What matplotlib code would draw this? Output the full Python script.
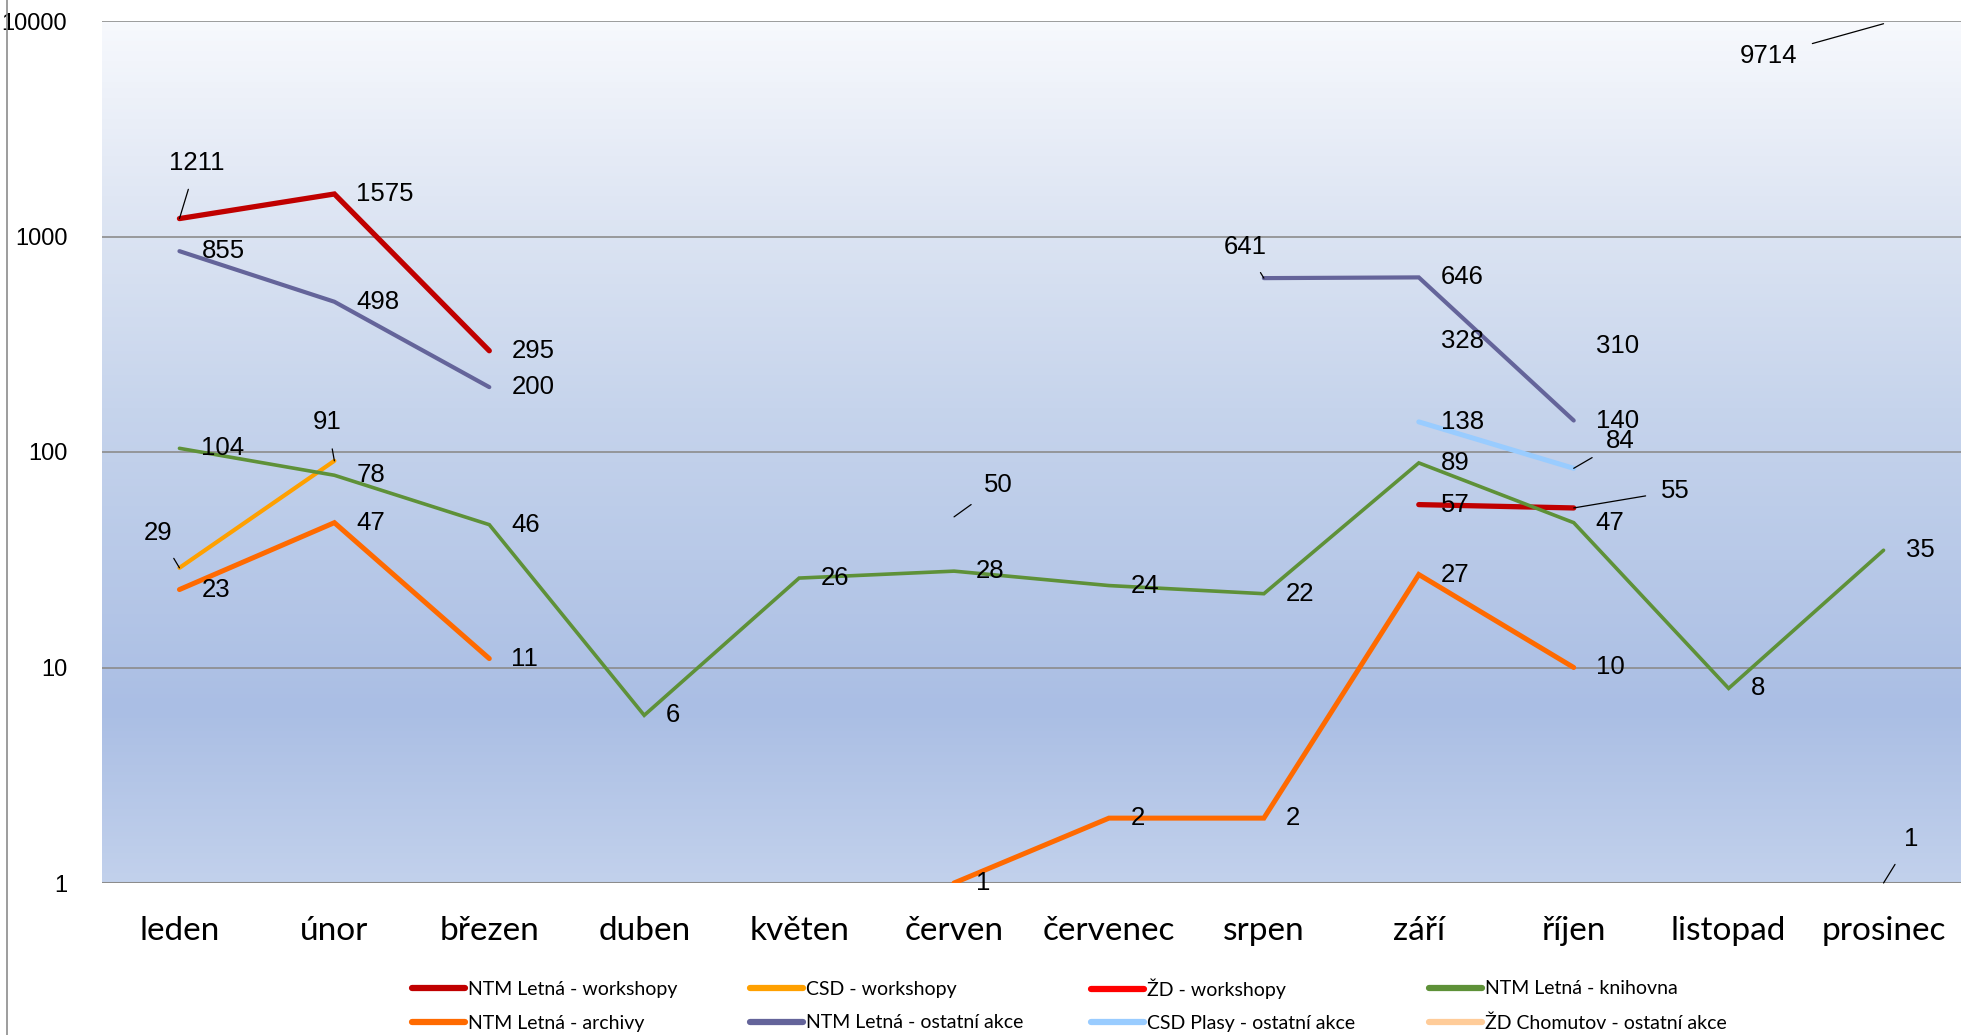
import numpy as np
import matplotlib
matplotlib.use("Agg")
import matplotlib.pyplot as plt
from matplotlib.colors import LinearSegmentedColormap
from matplotlib.lines import Line2D

plt.rcParams["font.family"] = ["Liberation Sans", "DejaVu Sans"]

nan = np.nan

# data
months = ["leden", "únor", "březen", "duben", "květen", "červen",
          "červenec", "srpen", "září", "říjen", "listopad", "prosinec"]

ntm_workshopy = [1211, 1575, 295, nan, nan, nan, nan, nan, 57, 55, nan, nan]
csd_workshopy = [29, 91, nan, nan, nan, nan, nan, nan, nan, nan, nan, nan]
zd_workshopy = [nan, nan, nan, nan, nan, 50, nan, nan, nan, nan, nan, nan]
ntm_knihovna = [104, 78, 46, 6, 26, 28, 24, 22, 89, 47, 8, 35]
ntm_archivy = [23, 47, 11, nan, nan, 1, 2, 2, 27, 10, nan, 1]
ntm_ostatni = [855, 498, 200, nan, nan, nan, nan, 641, 646, 140, nan, 9714]
csd_plasy = [nan, nan, nan, nan, nan, nan, nan, nan, 138, 84, nan, nan]
zd_chomutov = [nan, nan, nan, nan, nan, nan, nan, nan, 328, 310, nan, nan]

names = ["NTM Letná - workshopy", "CSD - workshopy", "ŽD - workshopy",
         "NTM Letná - knihovna", "NTM Letná - archivy", "NTM Letná - ostatní akce",
         "CSD Plasy - ostatní akce", "ŽD Chomutov - ostatní akce"]
series = [ntm_workshopy, csd_workshopy, zd_workshopy, ntm_knihovna,
          ntm_archivy, ntm_ostatni, csd_plasy, zd_chomutov]
colors = ["#C00000", "#FFA000", "#FF0000", "#5E9138",
          "#FF6A00", "#64649A", "#99CCFF", "#FFCC99"]
widths = [3.8, 3.0, 3.0, 2.6, 3.6, 3.0, 3.6, 3.0]
show_line = [True, True, True, True, True, True, True, False]

# label offsets in pixels (series index, month index) -> (dx, dy, ha, leader)
label_pos = {
    (0, 0): (17, 56, "center", True),
    (1, 0): (-21, 35, "center", True),
    (1, 1): (-7, 39, "center", True),
    (2, 5): (30, 32, "left", True),
    (5, 7): (-19, 31, "center", True),
    (6, 9): (32, 27, "left", True),
    (0, 9): (87, 17, "left", True),
    (5, 11): (-86, -32, "right", True),
    (4, 11): (20, 44, "left", True),
}

fig = plt.figure(figsize=(19.61, 10.35), dpi=100)
ax = fig.add_axes([102 / 1961, 1 - 883 / 1035, (1961 - 102) / 1961, (883 - 21) / 1035])

# gradient background
cmap = LinearSegmentedColormap.from_list("bg", [
    (0.0, "#C2D1EC"), (0.2, "#AABEE4"), (0.55, "#C6D4EC"),
    (0.8, "#E0E7F4"), (1.0, "#F7F9FD")])
grad = np.linspace(0, 1, 256).reshape(-1, 1)
ax.imshow(grad, aspect="auto", cmap=cmap, origin="lower",
          extent=[0, 1, 0, 1], transform=ax.transAxes, zorder=0)

x = np.arange(len(months))
for i, vals in enumerate(series):
    if show_line[i]:
        ax.plot(x, vals, color=colors[i], lw=widths[i], zorder=3,
                solid_capstyle="round", solid_joinstyle="miter")

ax.set_yscale("log")
ax.set_ylim(1, 10000)
ax.set_xlim(-0.5, len(months) - 0.5)
ax.set_yticks([1, 10, 100, 1000, 10000])
ax.set_yticklabels(["1", "10", "100", "1000", "10000"],
                   fontfamily="Liberation Sans", fontsize=17)
ax.minorticks_off()
ax.set_xticks(x)
ax.set_xticklabels(months, fontfamily="Lato", fontsize=24)
ax.tick_params(axis="y", length=0, pad=25)
ax.tick_params(axis="x", length=0, pad=23.5)
for s in ax.spines.values():
    s.set_visible(False)
ax.grid(axis="y", color="#8C8C8C", lw=1.2, zorder=1)
ax.axhline(1, color="#8C8C8C", lw=2.2, zorder=2)
ax.set_axisbelow(False)

# data labels
for i, vals in enumerate(series):
    for j, v in enumerate(vals):
        if np.isnan(v):
            continue
        if (i, j) in label_pos:
            dx, dy, ha, leader = label_pos[(i, j)]
        else:
            dx, dy, ha, leader = 22, 0, "left", False
        kw = {}
        if leader:
            kw["arrowprops"] = dict(arrowstyle="-", color="black", lw=0.9,
                                    shrinkA=9, shrinkB=0)
        ax.annotate(str(int(v)), (j, v), xytext=(dx, dy), textcoords="offset pixels",
                    ha=ha, va="center", fontsize=18.5, fontfamily="Liberation Sans",
                    color="black", zorder=5, annotation_clip=False, **kw)

# legend: one entry per slot, four columns and two rows
col_x = [412, 750, 1091, 1429]
row_y = [989, 1023]
for k, name in enumerate(names):
    h = Line2D([], [], color=colors[k], lw=4.5, solid_capstyle="round")
    fig.legend([h], [name], loc="center left",
               bbox_to_anchor=(col_x[k % 4] / 1961, 1 - row_y[k // 4] / 1035),
               frameon=False, handlelength=2.7, handletextpad=0.2,
               borderpad=0, borderaxespad=0,
               prop={"family": "Lato", "size": 14})

# left border of chart area
fig.add_artist(Line2D([7 / 1961, 7 / 1961], [0, 1], color="#8C8C8C", lw=1.2))

fig.savefig("out.png", dpi=100, facecolor="white")
